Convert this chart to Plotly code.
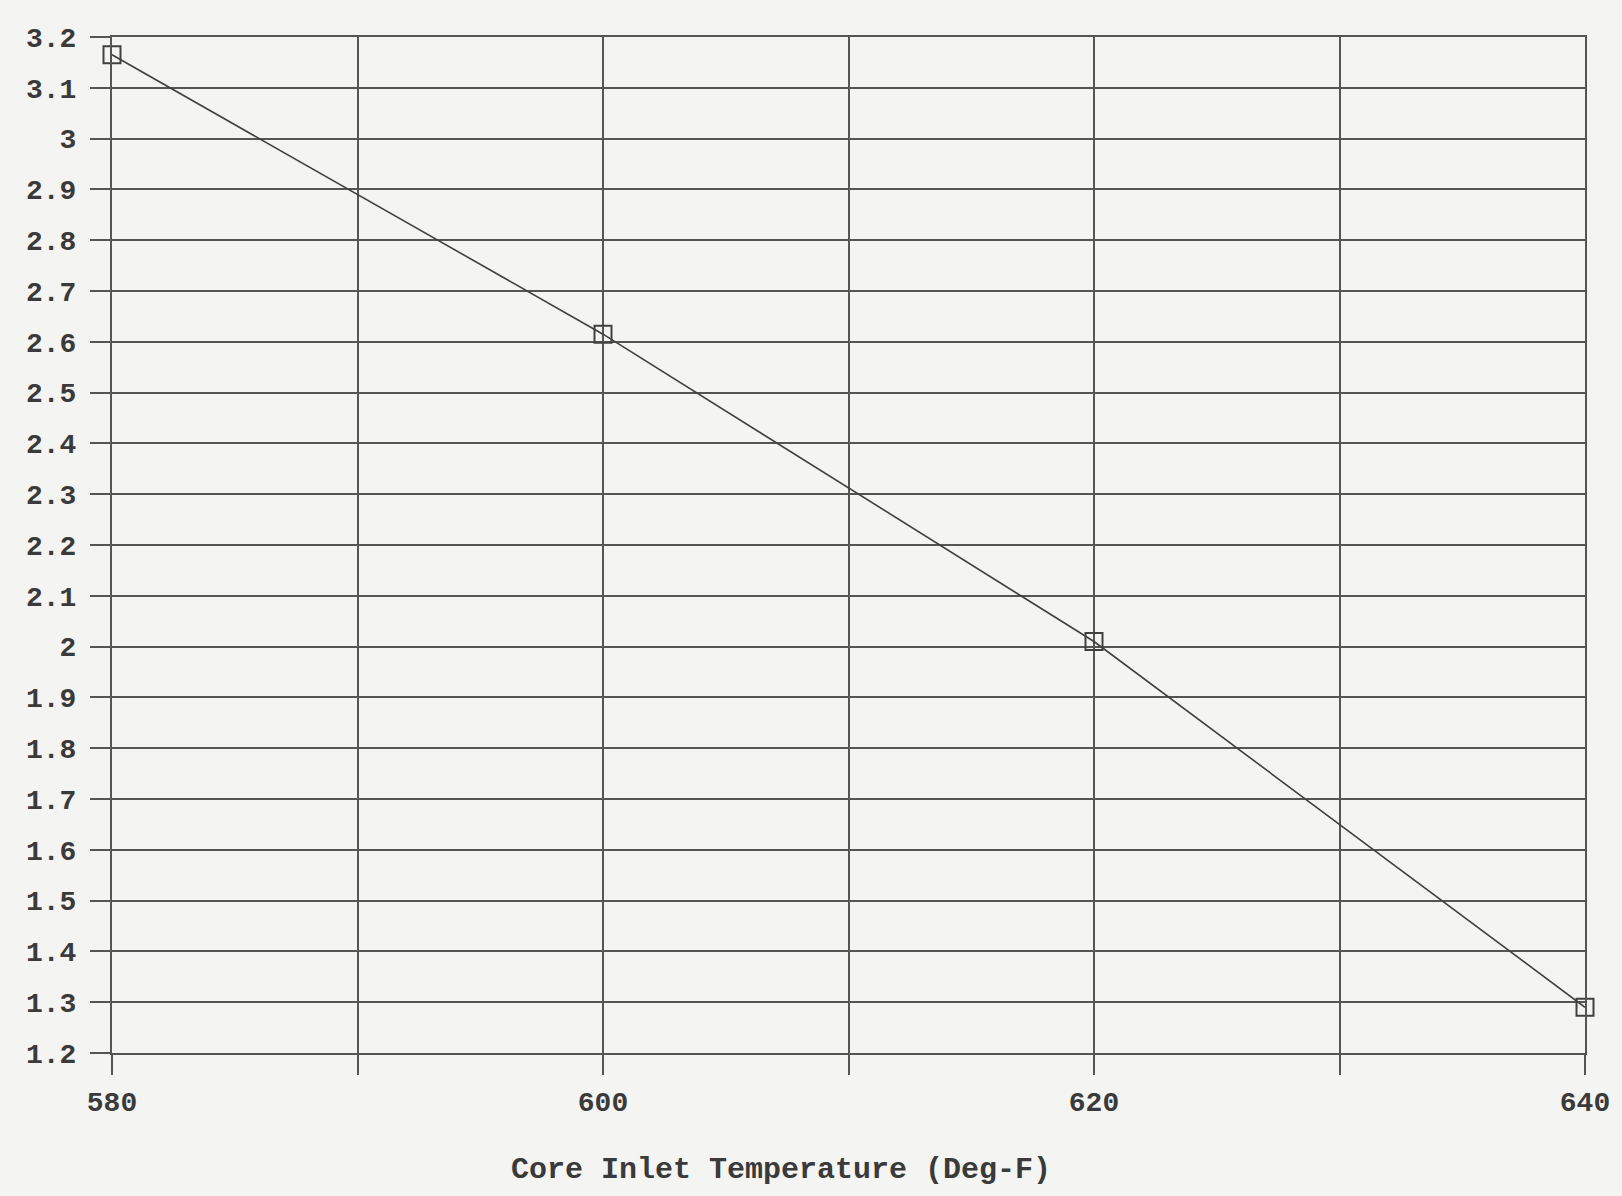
import plotly.graph_objects as go

# Data
temperature = [580, 600, 620, 640]
values = [3.165, 2.615, 2.01, 1.29]

x_tickvals = [580, 590, 600, 610, 620, 630, 640]
x_ticktext = ["580", "", "600", "", "620", "", "640"]
y_tickvals = [round(1.2 + 0.1 * i, 1) for i in range(21)]
y_ticktext = ["3" if v == 3.0 else ("2" if v == 2.0 else f"{v:g}") for v in y_tickvals]

x_title = "Core Inlet Temperature (Deg-F)"

grid_color = "#555555"
bg = "#f4f4f2"
font_family = "Liberation Mono"

fig = go.Figure()
fig.add_trace(go.Scatter(
    x=temperature, y=values, mode="lines+markers",
    line=dict(color="#404040", width=1.6),
    marker=dict(symbol="square-open", size=17, color="#404040", line=dict(width=2)),
    cliponaxis=False,
    showlegend=False,
))

fig.update_xaxes(
    range=[580, 640], tickvals=x_tickvals, ticktext=x_ticktext,
    showgrid=True, gridcolor=grid_color, gridwidth=2,
    showline=True, linecolor=grid_color, linewidth=2, mirror=True,
    ticks="outside", ticklen=20, tickwidth=2, tickcolor=grid_color,
    ticklabelstandoff=2,
    tickfont=dict(family=font_family, size=28, color="#3a3a3a", weight="bold"),
    zeroline=False,
)
fig.update_yaxes(
    range=[1.2, 3.2], tickvals=y_tickvals, ticktext=y_ticktext,
    showgrid=True, gridcolor=grid_color, gridwidth=2,
    showline=True, linecolor=grid_color, linewidth=2, mirror=True,
    ticks="outside", ticklen=20, tickwidth=2, tickcolor=grid_color,
    ticklabelstandoff=8,
    tickfont=dict(family=font_family, size=28, color="#3a3a3a", weight="bold"),
    zeroline=False,
)

fig.add_annotation(
    text=x_title, xref="paper", yref="paper", x=0.454, y=-0.115,
    xanchor="center", yanchor="middle", showarrow=False,
    font=dict(family=font_family, size=30, color="#3a3a3a", weight="bold"),
)

fig.update_layout(
    width=1622, height=1196,
    margin=dict(l=112, r=30, t=37, b=143),
    paper_bgcolor=bg, plot_bgcolor=bg,
)

fig.write_html("out.html")
